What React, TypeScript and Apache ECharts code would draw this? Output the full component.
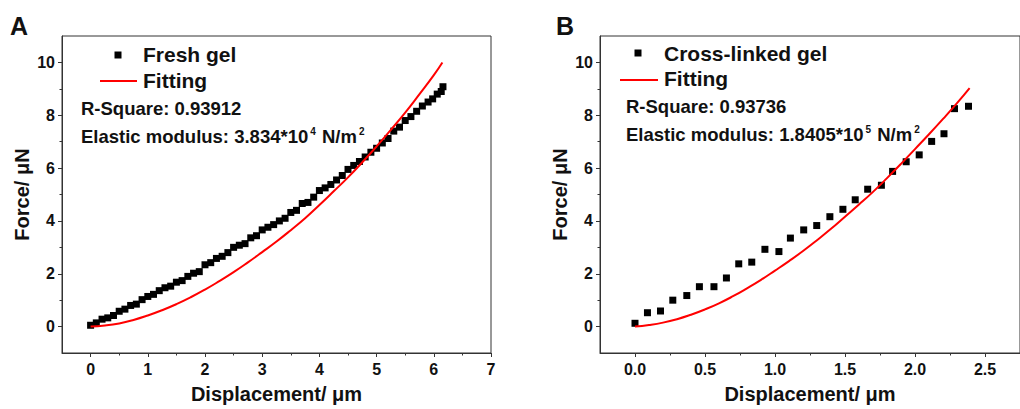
import React, { useEffect, useRef } from "react";
import * as echarts from "echarts";

// ---------- Panel A: fresh gel ----------
const dispA = [
  0.0, 0.1, 0.2, 0.3, 0.4, 0.5, 0.6, 0.7, 0.8, 0.9,
  1.0, 1.1, 1.2, 1.3, 1.4, 1.5, 1.6, 1.7, 1.8, 1.9,
  2.0, 2.1, 2.2, 2.3, 2.4, 2.5, 2.6, 2.7, 2.8, 2.9,
  3.0, 3.1, 3.2, 3.3, 3.4, 3.5, 3.6, 3.7, 3.8, 3.9,
  4.0, 4.1, 4.2, 4.3, 4.4, 4.5, 4.6, 4.7, 4.8, 4.9,
  5.0, 5.1, 5.2, 5.3, 5.4, 5.5, 5.6, 5.7, 5.8, 5.9,
  5.98, 6.06, 6.13, 6.16,
];
const forceA = [
  0.05, 0.14, 0.28, 0.33, 0.42, 0.58, 0.66, 0.8, 0.85, 1.02,
  1.14, 1.22, 1.36, 1.47, 1.53, 1.68, 1.74, 1.9, 2.02, 2.08,
  2.34, 2.42, 2.58, 2.66, 2.8, 3.0, 3.08, 3.14, 3.36, 3.44,
  3.66, 3.76, 3.86, 4.0, 4.1, 4.32, 4.4, 4.66, 4.7, 4.9,
  5.15, 5.25, 5.38, 5.55, 5.72, 5.95, 6.1, 6.25, 6.42, 6.6,
  6.75, 6.95, 7.12, 7.4, 7.55, 7.8, 7.95, 8.15, 8.35, 8.5,
  8.62, 8.8, 8.9, 9.08,
];
const fitDispA = [0, 0.25, 0.5, 0.75, 1.0, 1.25, 1.5, 1.75, 2.0, 2.25, 2.5, 2.75, 3.0, 3.25, 3.5, 3.75, 4.0, 4.25, 4.5, 4.75, 5.0, 5.25, 5.5, 5.75, 6.0, 6.15];
const fitForceA = [0, 0.04, 0.12, 0.25, 0.42, 0.62, 0.85, 1.11, 1.4, 1.72, 2.06, 2.43, 2.82, 3.22, 3.65, 4.1, 4.6, 5.12, 5.65, 6.22, 6.82, 7.45, 8.1, 8.8, 9.52, 10.0];

// ---------- Panel B: cross-linked gel ----------
const dispB = [
  0.0, 0.089, 0.182, 0.27, 0.37, 0.46, 0.564, 0.653, 0.741, 0.834,
  0.928, 1.028, 1.11, 1.205, 1.298, 1.392, 1.485, 1.573, 1.662, 1.76,
  1.84, 1.937, 2.03, 2.119, 2.207, 2.282, 2.382,
];
const forceB = [
  0.125, 0.525, 0.59, 1.0, 1.175, 1.51, 1.51, 1.84, 2.375, 2.44,
  2.925, 2.84, 3.35, 3.66, 3.825, 4.16, 4.44, 4.8, 5.2, 5.35,
  5.875, 6.24, 6.5, 7.01, 7.3, 8.25, 8.34,
];
const fitDispB = [0, 0.1, 0.2, 0.3, 0.4, 0.5, 0.6, 0.7, 0.8, 0.9, 1.0, 1.1, 1.2, 1.3, 1.4, 1.5, 1.6, 1.7, 1.8, 1.9, 2.0, 2.1, 2.2, 2.3, 2.39];
const fitForceB = [0, 0.06, 0.15, 0.28, 0.45, 0.65, 0.88, 1.15, 1.45, 1.77, 2.12, 2.48, 2.86, 3.27, 3.7, 4.16, 4.62, 5.1, 5.62, 6.16, 6.72, 7.28, 7.86, 8.46, 9.03];

// ---------- Ticks ----------
const xTicksA = [0, 1, 2, 3, 4, 5, 6, 7];
const xMinorA = [0.5, 1.5, 2.5, 3.5, 4.5, 5.5, 6.5];
const xTicksB = [0, 0.5, 1.0, 1.5, 2.0, 2.5];
const xMinorB = [0.25, 0.75, 1.25, 1.75, 2.25];
const yTicks = [0, 2, 4, 6, 8, 10];
const yMinor = [1, 3, 5, 7, 9];

const FONT = '"Liberation Sans", Arial, sans-serif';
const AXIS_COLOR = "#333";
const TEXT_COLOR = "#111";

function zip(xs: number[], ys: number[]) {
  return xs.map((x, i) => [x, ys[i]]);
}

function mainX(grid: number, min: number, max: number, ticks: number[], fmt: (v: number) => string) {
  return {
    type: "value",
    gridIndex: grid,
    position: "bottom",
    min,
    max,
    name: "Displacement/ μm",
    nameLocation: "middle",
    nameGap: 31,
    nameTextStyle: { fontFamily: FONT, fontWeight: "bold", fontSize: 20, color: TEXT_COLOR },
    axisLine: { show: true, onZero: false, lineStyle: { color: AXIS_COLOR, width: 1 } },
    axisTick: { show: true, customValues: ticks, length: 4, lineStyle: { color: AXIS_COLOR } },
    axisLabel: {
      customValues: ticks,
      formatter: fmt,
      fontFamily: FONT,
      fontWeight: "bold",
      fontSize: 16,
      color: TEXT_COLOR,
      margin: 8,
    },
    splitLine: { show: false },
  };
}
function minorX(grid: number, min: number, max: number, ticks: number[]) {
  return {
    type: "value",
    gridIndex: grid,
    position: "bottom",
    min,
    max,
    axisLine: { show: false, onZero: false },
    axisTick: { show: true, customValues: ticks, length: 2.5, lineStyle: { color: AXIS_COLOR } },
    axisLabel: { show: false, customValues: ticks },
    splitLine: { show: false },
  };
}
function mainY(grid: number) {
  return {
    type: "value",
    gridIndex: grid,
    position: "left",
    min: -1,
    max: 11,
    name: "Force/ μN",
    nameLocation: "middle",
    nameGap: 30,
    nameTextStyle: { fontFamily: FONT, fontWeight: "bold", fontSize: 20, color: TEXT_COLOR },
    axisLine: { show: true, onZero: false, lineStyle: { color: AXIS_COLOR, width: 1 } },
    axisTick: { show: true, customValues: yTicks, length: 4, lineStyle: { color: AXIS_COLOR } },
    axisLabel: {
      customValues: yTicks,
      fontFamily: FONT,
      fontWeight: "bold",
      fontSize: 16,
      color: TEXT_COLOR,
      margin: 7,
    },
    splitLine: { show: false },
  };
}
function minorY(grid: number) {
  return {
    type: "value",
    gridIndex: grid,
    position: "left",
    min: -1,
    max: 11,
    axisLine: { show: false, onZero: false },
    axisTick: { show: true, customValues: yMinor, length: 2.5, lineStyle: { color: AXIS_COLOR } },
    axisLabel: { show: false, customValues: yMinor },
    splitLine: { show: false },
  };
}

function txt(text: string, x: number, y: number, size: number) {
  return {
    type: "text",
    x,
    y,
    silent: true,
    style: {
      text,
      fill: TEXT_COLOR,
      fontFamily: FONT,
      fontWeight: "bold",
      fontSize: size,
      verticalAlign: "middle",
      align: "left",
    },
  };
}
function modulusText(mant: string, exp: string, x: number, y: number) {
  return {
    type: "text",
    x,
    y,
    silent: true,
    style: {
      text: `{a|Elastic modulus: ${mant}*10}{s|${exp}}{a| N/m}{s|2}`,
      fill: TEXT_COLOR,
      fontFamily: FONT,
      fontWeight: "bold",
      fontSize: 18.5,
      verticalAlign: "middle",
      align: "left",
      rich: {
        a: { fontFamily: FONT, fontWeight: "bold", fontSize: 18.5, fill: TEXT_COLOR, lineHeight: 20 },
        s: { fontFamily: FONT, fontWeight: "bold", fontSize: 10, fill: TEXT_COLOR, verticalAlign: "top", padding: [0, 1, 0, 2] },
      },
    },
  };
}
function legend(symX: number, symY: number, lineX1: number, lineX2: number, lineY: number, textX: number, name: string, y1: number, y2: number) {
  return [
    { type: "rect", silent: true, shape: { x: symX - 3.5, y: symY - 3.5, width: 7, height: 7 }, style: { fill: "#000" } },
    txt(name, textX, y1, 21),
    { type: "line", silent: true, shape: { x1: lineX1, y1: lineY, x2: lineX2, y2: lineY }, style: { stroke: "#ff0000", lineWidth: 2 } },
    txt("Fitting", textX, y2, 21),
  ];
}

export default function App() {
  const ref = useRef<HTMLDivElement>(null);
  useEffect(() => {
    if (!ref.current) return;
    const chart = echarts.init(ref.current, undefined, { renderer: "svg" });
    const fmtA = (v: number) => String(v);
    const fmtB = (v: number) => v.toFixed(1);
    const option: any = {
      animation: false,
      backgroundColor: "#fff",
      grid: [
        { left: 62, top: 36, width: 429, height: 319, show: true, borderColor: AXIS_COLOR, borderWidth: 1, backgroundColor: "transparent" },
        { left: 600, top: 36, width: 430, height: 319, show: true, borderColor: AXIS_COLOR, borderWidth: 1, backgroundColor: "transparent" },
      ],
      xAxis: [
        mainX(0, -0.5, 7, xTicksA, fmtA),
        minorX(0, -0.5, 7, xMinorA),
        mainX(1, -0.25, 2.75, xTicksB, fmtB),
        minorX(1, -0.25, 2.75, xMinorB),
      ],
      yAxis: [mainY(0), minorY(0), mainY(1), minorY(1)],
      series: [
        {
          name: "Fresh gel",
          type: "scatter",
          xAxisIndex: 0,
          yAxisIndex: 0,
          symbol: "rect",
          symbolSize: 7,
          itemStyle: { color: "#000", opacity: 1 },
          data: zip(dispA, forceA),
          z: 2,
        },
        {
          name: "Fitting A",
          type: "line",
          xAxisIndex: 0,
          yAxisIndex: 0,
          smooth: true,
          showSymbol: false,
          lineStyle: { color: "#ff0000", width: 2 },
          data: zip(fitDispA, fitForceA),
          z: 3,
        },
        {
          name: "Cross-linked gel",
          type: "scatter",
          xAxisIndex: 2,
          yAxisIndex: 2,
          symbol: "rect",
          symbolSize: 7,
          itemStyle: { color: "#000", opacity: 1 },
          data: zip(dispB, forceB),
          z: 2,
        },
        {
          name: "Fitting B",
          type: "line",
          xAxisIndex: 2,
          yAxisIndex: 2,
          smooth: true,
          showSymbol: false,
          lineStyle: { color: "#ff0000", width: 2 },
          data: zip(fitDispB, fitForceB),
          z: 3,
        },
      ],
      graphic: [
        txt("A", 10, 26, 25),
        txt("B", 556, 26, 25),
        ...legend(118, 55, 100, 137, 81, 143, "Fresh gel", 54, 80),
        txt("R-Square: 0.93912", 81, 108, 18.5),
        modulusText("3.834", "4", 81, 136),
        ...legend(638, 53, 620, 658, 80, 664, "Cross-linked gel", 53, 78),
        txt("R-Square: 0.93736", 626, 106, 18.5),
        modulusText("1.8405", "5", 626, 134),
      ],
    };
    chart.setOption(option);
    return () => chart.dispose();
  }, []);
  return <div ref={ref} style={{ position: "absolute", left: 0, top: 0, width: 1020, height: 409 }} />;
}
